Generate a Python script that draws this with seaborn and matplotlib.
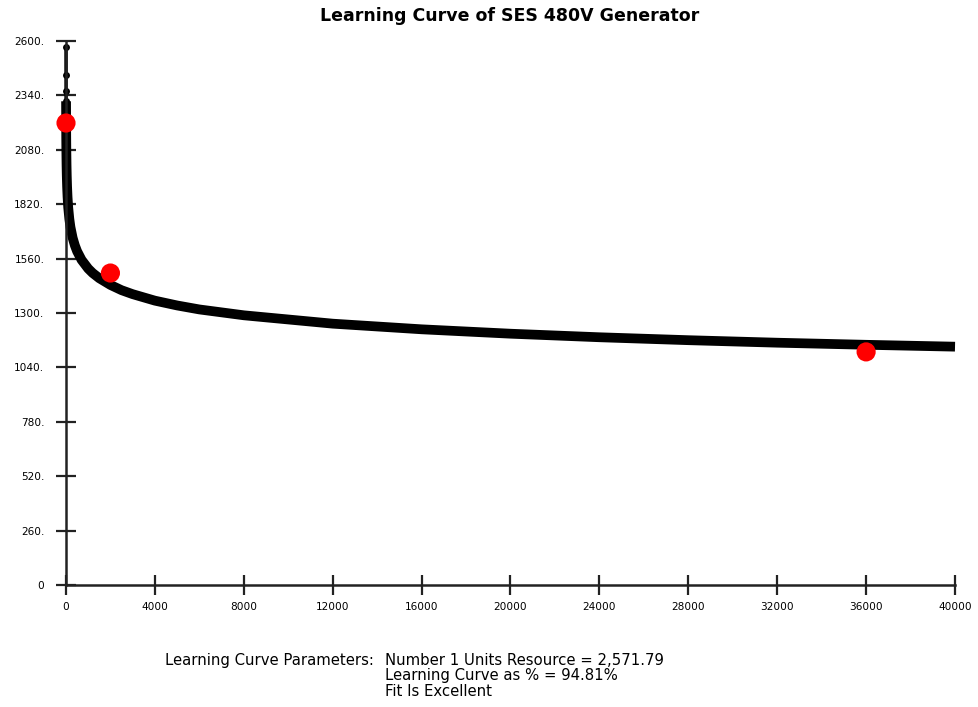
import matplotlib
matplotlib.use("Agg")
import matplotlib.pyplot as plt
import seaborn as sns
import pandas as pd

# Fitted learning curve
curve_units = [1, 2, 3, 4, 6, 8, 10, 12, 16, 25, 35, 50, 70, 100, 150, 200, 300,
               400, 500, 700, 1000, 1200, 1500, 2000, 2500, 3000, 4000, 5000, 6000,
               8000, 12000, 16000, 20000, 24000, 28000, 32000, 36000, 40000]
curve_hours = [2572, 2438, 2363, 2312, 2241, 2192, 2154, 2125, 2078, 2008, 1957,
               1904, 1855, 1805, 1750, 1711, 1659, 1623, 1595, 1554, 1512, 1491,
               1466, 1434, 1409, 1390, 1359, 1336, 1317, 1289, 1249, 1222, 1201,
               1184, 1170, 1158, 1148, 1139]
# Observed data points (red)
obs_units = [1, 2000, 36000]
obs_hours = [2208, 1491, 1114]

x_ticks = [0, 4000, 8000, 12000, 16000, 20000, 24000, 28000, 32000, 36000, 40000]
y_ticks = [0, 260, 520, 780, 1040, 1300, 1560, 1820, 2080, 2340, 2600]
y_tick_labels = ["0", "260.", "520.", "780.", "1040.", "1300.", "1560.", "1820.",
                 "2080.", "2340.", "2600."]

title = "Learning Curve of SES 480V Generator"
param_label = "Learning Curve Parameters:"
param_lines = ["Number 1 Units Resource = 2,571.79",
               "Learning Curve as % = 94.81%",
               "Fit Is Excellent"]

sns.set_style("white")
plt.rcParams["font.family"] = ["DejaVu Sans"]
plt.rcParams["text.color"] = "black"

fig = plt.figure(figsize=(9.79, 7.07), dpi=100)
ax = fig.add_axes([0.0674, 0.1726, 0.9081, 0.7694])

curve = pd.DataFrame({"units": curve_units, "hours": curve_hours})
obs = pd.DataFrame({"units": obs_units, "hours": obs_hours})

# thin spike of first units with dots
head = curve.iloc[:5]
sns.lineplot(data=head, x="units", y="hours", ax=ax, color="black", lw=2.5,
             marker="o", markersize=5, markeredgewidth=0, clip_on=False)
# thick fitted curve
tail = curve.iloc[3:]
sns.lineplot(data=tail, x="units", y="hours", ax=ax, color="black", lw=7,
             solid_capstyle="butt", solid_joinstyle="round", clip_on=False)
sns.scatterplot(data=obs, x="units", y="hours", ax=ax, color="#ff0000", s=190,
                edgecolor="none", zorder=5, clip_on=False)

ax.set_xlim(0, 40000)
ax.set_ylim(0, 2600)
ax.set_xticks(x_ticks)
ax.set_xticklabels([str(t) for t in x_ticks])
ax.set_yticks(y_ticks)
ax.set_yticklabels(y_tick_labels)
ax.set_xlabel("")
ax.set_ylabel("")

for side in ["top", "right"]:
    ax.spines[side].set_visible(False)
for side in ["left", "bottom"]:
    ax.spines[side].set_linewidth(1.8)
    ax.spines[side].set_color("#222222")
ax.tick_params(axis="both", bottom=True, left=True, direction="inout", length=15,
               width=1.6, color="#222222", labelsize=7.6, labelcolor="black")
ax.tick_params(axis="y", pad=8)
ax.tick_params(axis="x", pad=5)

fig.text(0.521, 0.978, title, ha="center", va="center", fontsize=12.5,
         fontweight="bold")
fig.text(0.169, 0.066, param_label, ha="left", va="center", fontsize=10.7)
for i, line in enumerate(param_lines):
    fig.text(0.393, 0.066 - i * 0.022, line, ha="left", va="center", fontsize=10.7)

fig.savefig("out.png", dpi=100)
